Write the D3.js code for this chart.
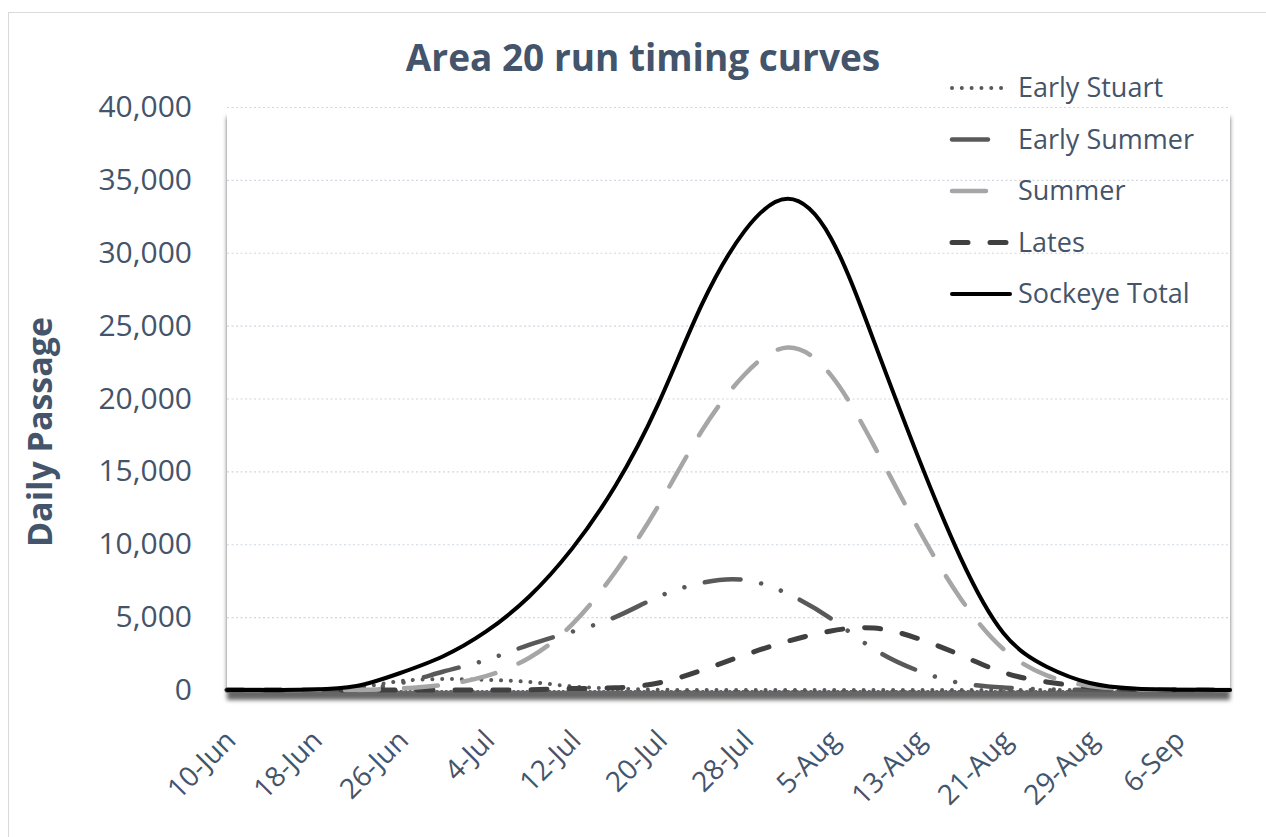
<!DOCTYPE html>
<html>
<head>
	<meta charset="utf-8">
	<script src="https://cdn.jsdelivr.net/npm/d3@7"></script>
	<style>
		body { margin: 0; background: #fff; }
		text { fill: #44546a; }
	</style>
</head>
<body>
	<svg id="chart" width="1266" height="837"></svg>

	<script type="text/javascript">
		// values, one point every 4 days
		var dates = ["2021-06-10", "2021-06-14", "2021-06-18", "2021-06-22", "2021-06-26", "2021-06-30",
			"2021-07-04", "2021-07-08", "2021-07-12", "2021-07-16", "2021-07-20", "2021-07-24",
			"2021-07-28", "2021-08-01", "2021-08-05", "2021-08-09", "2021-08-13", "2021-08-17",
			"2021-08-21", "2021-08-25", "2021-08-29", "2021-09-02", "2021-09-06", "2021-09-10", "2021-09-11"];

		var earlyStuart = [0, 0, 0, 150, 600, 750, 700, 550, 250, 100, 20, 0, 0, 0, 0, 0, 0, 0, 0, 0, 0, 0, 0, 0, 0];
		var earlySummer = [0, 0, 0, 100, 450, 1250, 2050, 3100, 4000, 5000, 6400, 7350, 7550, 6600, 4900, 2800, 1350, 480, 170, 40, 10, 0, 0, 0, 0];
		var summer = [0, 0, 0, 0, 100, 350, 950, 2200, 4500, 8100, 12650, 17750, 21650, 23500, 21600, 16750, 11200, 6300, 2800, 1000, 280, 60, 10, 0, 0];
		var lates = [0, 0, 0, 0, 0, 0, 0, 20, 100, 150, 480, 1350, 2400, 3350, 4050, 4250, 3550, 2400, 1200, 550, 200, 50, 10, 0, 0];
		var sockeyeTotal = [0, 0, 30, 270, 1150, 2300, 4000, 6400, 9700, 14000, 19650, 26400, 31500, 33700, 31000, 23900, 16150, 9100, 3900, 1600, 480, 100, 20, 0, 0];

		var xTickDates = ["2021-06-10", "2021-06-18", "2021-06-26", "2021-07-04", "2021-07-12", "2021-07-20",
			"2021-07-28", "2021-08-05", "2021-08-13", "2021-08-21", "2021-08-29", "2021-09-06"];
		var xTickLabels = ["10-Jun", "18-Jun", "26-Jun", "4-Jul", "12-Jul", "20-Jul",
			"28-Jul", "5-Aug", "13-Aug", "21-Aug", "29-Aug", "6-Sep"];
		var yTicks = [0, 5000, 10000, 15000, 20000, 25000, 30000, 35000, 40000];

		var seriesNames = ["Early Stuart", "Early Summer", "Summer", "Lates", "Sockeye Total"];

		var styles = {
			"Early Stuart": { color: "#595959", width: 4, dash: "0.01 9.8" },
			"Early Summer": { color: "#595959", width: 4.5, dash: "36 21 0.01 21 0.01 21" },
			"Summer": { color: "#a6a6a6", width: 4.5, dash: "34 25" },
			"Lates": { color: "#404040", width: 5, dash: "16 22" },
			"Sockeye Total": { color: "#000000", width: 4, dash: null }
		};

		var svg = d3.select("#chart");
		var parse = d3.timeParse("%Y-%m-%d");

		var plotLeft = 227, plotRight = 1230, plotTop = 107, plotBottom = 690;

		var x = d3.scaleTime()
			.domain([parse("2021-06-10"), parse("2021-09-11")])
			.range([plotLeft, plotRight]);
		var y = d3.scaleLinear()
			.domain([0, 40000])
			.range([plotBottom, plotTop]);

		// outer chart border
		svg.append("rect")
			.attr("x", 8.5).attr("y", 12.5)
			.attr("width", 1300).attr("height", 900)
			.attr("fill", "none")
			.attr("stroke", "#d9d9d9");

		var defs = svg.append("defs");
		defs.append("filter")
			.attr("id", "shadow")
			.attr("x", "-5%").attr("y", "-5%")
			.attr("width", "110%").attr("height", "115%")
			.append("feDropShadow")
			.attr("dx", 0).attr("dy", 10)
			.attr("stdDeviation", 2.2)
			.attr("flood-color", "#000")
			.attr("flood-opacity", 0.6);

		// plot area with shadow
		svg.append("rect")
			.attr("x", plotLeft).attr("y", plotTop)
			.attr("width", plotRight - plotLeft).attr("height", plotBottom - plotTop)
			.attr("fill", "#fff")
			.attr("filter", "url(#shadow)");

		// gridlines
		svg.append("g")
			.selectAll("line")
			.data(yTicks)
			.enter()
			.append("line")
			.attr("x1", plotLeft).attr("x2", plotRight)
			.attr("y1", function(d) { return y(d) + 0.5; })
			.attr("y2", function(d) { return y(d) + 0.5; })
			.attr("stroke", "#d0d7e2")
			.attr("stroke-width", 1.2)
			.attr("stroke-dasharray", "2 2.5");

		// y axis labels
		var yAxis = d3.axisLeft(y)
			.tickValues(yTicks)
			.tickFormat(d3.format(","))
			.tickSize(0)
			.tickPadding(35);
		var yg = svg.append("g")
			.attr("transform", "translate(" + plotLeft + ",0)")
			.call(yAxis);
		yg.select(".domain").remove();
		yg.selectAll("text")
			.style("font-family", "'Open Sans', sans-serif")
			.style("font-size", "30px")
			.attr("fill", "#44546a");

		// x axis labels
		var xAxis = d3.axisBottom(x)
			.tickValues(xTickDates.map(parse))
			.tickFormat(function(d, i) { return xTickLabels[i]; })
			.tickSize(0);
		var xg = svg.append("g")
			.attr("transform", "translate(0," + plotBottom + ")")
			.call(xAxis);
		xg.select(".domain").remove();
		xg.selectAll("text")
			.attr("y", 0).attr("dy", 0)
			.attr("transform", "translate(10,52) rotate(-45)")
			.style("text-anchor", "end")
			.style("font-family", "'Open Sans', sans-serif")
			.style("font-size", "28px")
			.attr("fill", "#44546a");

		// lines
		var line = d3.line()
			.x(function(d) { return x(d.date); })
			.y(function(d) { return Math.min(y(d.value), plotBottom); })
			.curve(d3.curveNatural);

		var allValues = [earlyStuart, earlySummer, summer, lates, sockeyeTotal];
		var drawOrder = [0, 1, 3, 2, 4];
		drawOrder.forEach(function(i) {
			var name = seriesNames[i];
			var st = styles[name];
			var pts = dates.map(function(d, j) { return { date: parse(d), value: allValues[i][j] }; });
			svg.append("path")
				.datum(pts)
				.attr("d", line)
				.attr("fill", "none")
				.attr("stroke", st.color)
				.attr("stroke-width", st.width)
				.attr("stroke-linecap", "round")
				.attr("stroke-linejoin", "round")
				.attr("stroke-dasharray", st.dash);
		});

		// title
		svg.append("text")
			.attr("x", 643).attr("y", 71)
			.attr("text-anchor", "middle")
			.style("font-family", "'Open Sans', sans-serif")
			.style("font-weight", "bold")
			.style("font-size", "37px")
			.text("Area 20 run timing curves");

		// y axis title
		svg.append("text")
			.attr("transform", "translate(52,432) rotate(-90)")
			.attr("text-anchor", "middle")
			.style("font-family", "'Open Sans', sans-serif")
			.style("font-weight", "bold")
			.style("font-size", "34px")
			.text("Daily Passage");

		// legend
		var legend = svg.append("g")
			.selectAll("g")
			.data(seriesNames)
			.enter()
			.append("g")
			.attr("transform", function(d, i) { return "translate(952," + (88 + i * 51.5) + ")"; });

		legend.append("line")
			.attr("x1", 0)
			.attr("x2", function(d) { return d == "Early Summer" || d == "Summer" ? 40 : 58; })
			.attr("stroke", function(d) { return styles[d].color; })
			.attr("stroke-width", function(d) { return styles[d].width; })
			.attr("stroke-linecap", "round")
			.attr("stroke-dasharray", function(d) { return styles[d].dash; });

		legend.append("text")
			.attr("x", 66)
			.attr("dy", "0.35em")
			.style("font-family", "'Open Sans', sans-serif")
			.style("font-size", "27px")
			.text(function(d) { return d; });
	</script>
</body>
</html>
